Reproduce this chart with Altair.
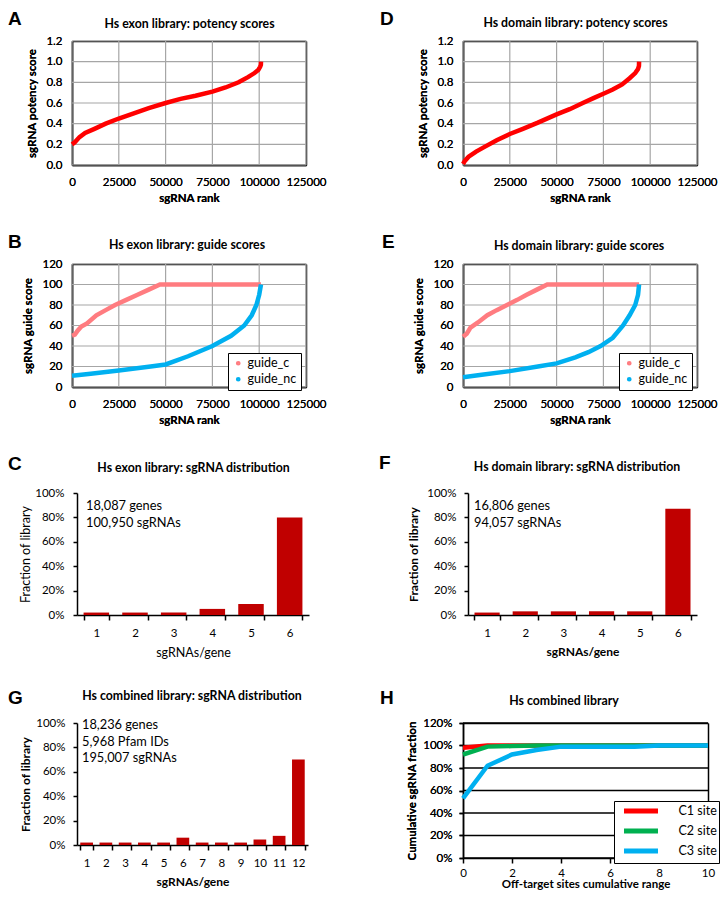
import altair as alt
import pandas as pd

FONT = "Lato"
LFONT = "Liberation Sans"
RED = "#FF0000"
SALMON = "#FF7C80"
BLUE = "#00B0F0"
GREEN = "#00B050"
BAR = "#C00000"
GRID = "#A6A6A6"

# ---------------- data ----------------
# A: Hs exon library potency scores (rank vs score)
exon_pot_rank = [0, 1500, 4000, 7000, 12000, 18000, 25000, 33000, 41000, 50000, 58000,
                 66000, 75000, 82000, 89000, 94000, 97500, 99500, 100500, 100900, 100950]
exon_pot_score = [0.20, 0.22, 0.27, 0.31, 0.35, 0.40, 0.45, 0.50, 0.55, 0.60, 0.64,
                  0.67, 0.71, 0.75, 0.80, 0.85, 0.89, 0.92, 0.95, 0.97, 1.00]
# D: Hs domain library potency scores
dom_pot_rank = [0, 1000, 3000, 7000, 12000, 18000, 25000, 32000, 40000, 50000, 57000,
                64000, 70000, 75000, 80000, 85000, 89000, 92000, 93500, 94000, 94057]
dom_pot_score = [0.01, 0.04, 0.08, 0.13, 0.18, 0.24, 0.30, 0.35, 0.41, 0.49, 0.54,
                 0.60, 0.65, 0.69, 0.73, 0.78, 0.84, 0.89, 0.93, 0.96, 1.00]
# B: Hs exon library guide scores
exon_c_rank = [0, 1500, 3000, 5000, 8000, 13000, 18000, 23000, 29000, 35000, 41000, 47000, 100950]
exon_c_score = [50, 51, 55, 59, 62, 70, 75, 80, 85, 90, 95, 100, 100]
exon_nc_rank = [0, 10000, 25000, 42000, 50000, 62000, 75000, 85000, 92000, 96000, 98500, 100000, 100950]
exon_nc_score = [11, 13, 16, 20, 22, 30, 40, 50, 60, 70, 80, 90, 100]
# E: Hs domain library guide scores
dom_c_rank = [0, 2000, 4000, 8000, 13000, 18000, 23500, 29000, 34000, 39500, 45000, 94057]
dom_c_score = [49, 52, 58, 63, 70, 75, 80, 85, 90, 95, 100, 100]
dom_nc_rank = [0, 2000, 10000, 25000, 40000, 50000, 60000, 67000, 73500, 80000, 85500,
               89000, 92000, 93500, 94057]
dom_nc_score = [9.5, 10, 12, 15.5, 20, 23, 29, 34, 40, 48, 60, 70, 80, 90, 100]
# C / F / G: sgRNA distribution
genes6 = ["1", "2", "3", "4", "5", "6"]
exon_frac = [0.02, 0.02, 0.02, 0.05, 0.09, 0.80]
dom_frac = [0.02, 0.03, 0.03, 0.03, 0.03, 0.87]
genes12 = [str(i) for i in range(1, 13)]
comb_frac = [0.02, 0.02, 0.02, 0.02, 0.02, 0.06, 0.02, 0.02, 0.02, 0.045, 0.075, 0.70]
# H: off-target cumulative fractions
off_range = list(range(0, 11))
c1_site = [0.98, 1.0, 1.0, 1.0, 1.0, 1.0, 1.0, 1.0, 1.0, 1.0, 1.0]
c2_site = [0.92, 0.99, 0.995, 1.0, 1.0, 1.0, 1.0, 1.0, 1.0, 1.0, 1.0]
c3_site = [0.53, 0.82, 0.92, 0.96, 0.99, 0.99, 0.99, 0.99, 1.0, 1.0, 1.0]

# axis ticks / ranges
rank_ticks = [0, 25000, 50000, 75000, 100000, 125000]
potency_ticks = [0.0, 0.2, 0.4, 0.6, 0.8, 1.0, 1.2]
guide_ticks = [0, 20, 40, 60, 80, 100, 120]
pct_ticks = [0, 0.2, 0.4, 0.6, 0.8, 1.0]
cum_ticks = [0, 0.2, 0.4, 0.6, 0.8, 1.0, 1.2]
off_ticks = [0, 2, 4, 6, 8, 10]

captions = {
    "C": "18,087 genes\n100,950 sgRNAs",
    "F": "16,806 genes\n94,057 sgRNAs",
    "G": "18,236 genes\n5,968 Pfam IDs\n195,007 sgRNAs",
}

TSIZE = 12.3
EDGE = dict(domain=True, domainColor="black", domainWidth=1.5)


def txt(text, x, y, size=TSIZE, weight="bold", font=FONT, align="center",
        baseline="middle", line_height=None):
    kw = dict(font=font, fontSize=size, fontWeight=weight, align=align,
              baseline=baseline, color="black")
    if line_height:
        kw.update(lineBreak="\n", lineHeight=line_height)
    return alt.Chart(pd.DataFrame({"t": [text]})).mark_text(**kw).encode(
        text="t:N", x=alt.value(x), y=alt.value(y))


def letter(t, x, y):
    return txt(t, x, y, size=19, font=LFONT, align="left")


def rules(xf, xvals, yf, yvals, xenc, yenc, color, width):
    out = []
    if xvals:
        out.append(alt.Chart(pd.DataFrame({xf: xvals})).mark_rule(
            color=color, strokeWidth=width).encode(x=xenc))
    if yvals:
        out.append(alt.Chart(pd.DataFrame({yf: yvals})).mark_rule(
            color=color, strokeWidth=width).encode(y=yenc))
    return out


def top_right_edges(xf, xscale, yf, yscale):
    """Invisible layer whose top/right axes draw the upper and right border lines."""
    plain = dict(labels=False, ticks=False, grid=False, title=None, **EDGE)
    return alt.Chart(pd.DataFrame({xf: [0], yf: [0]})).mark_point(opacity=0).encode(
        x=alt.X(f"{xf}:Q", scale=xscale, axis=alt.Axis(orient="top", **plain)),
        y=alt.Y(f"{yf}:Q", scale=yscale, axis=alt.Axis(orient="right", **plain)))


RANK_SCALE = alt.Scale(domain=[0, 125000], nice=False)


def rank_x():
    return alt.X("rank:Q", scale=RANK_SCALE,
                 axis=alt.Axis(orient="bottom", values=rank_ticks, format="d",
                               title="sgRNA rank", grid=False, ticks=False, labelPadding=11,
                               titlePadding=5, labelFlush=False, labelOverlap=False,
                               labelFontSize=11.5, titleFontSize=11.5, titleFontWeight="bold",
                               **EDGE))


def score_y(title, scale, vals, fmt):
    return alt.Y("score:Q", scale=scale,
                 axis=alt.Axis(orient="left", values=vals, format=fmt, title=title, grid=False,
                               ticks=False, labelPadding=10,
                               titlePadding=8, labelOverlap=False, labelFontSize=11.5,
                               titleFontSize=11.5, titleFontWeight="bold", **EDGE))


def potency_panel(ranks, scores, lt, lx, ly, title, tx, ty):
    df = pd.DataFrame({"rank": ranks, "score": scores})
    ysc = alt.Scale(domain=[0, 1.2], nice=False)
    xenc = rank_x()
    yenc = score_y("sgRNA potency score", ysc, potency_ticks, ".1f")
    line = alt.Chart(df).mark_line(color=RED, strokeWidth=4.5).encode(x=xenc, y=yenc)
    return alt.layer(
        *rules("rank", rank_ticks, "score", potency_ticks, xenc, yenc, GRID, 1.2),
        line,
        top_right_edges("rank", RANK_SCALE, "score", ysc),
        letter(lt, lx, ly), txt(title, tx, ty)).properties(width=234, height=124)


def guide_panel(cr, cs, nr, ns, lt, lx, ly, title, tx, ty):
    df = pd.DataFrame({"rank": cr + nr, "score": cs + ns,
                       "series": ["guide_c"] * len(cr) + ["guide_nc"] * len(nr)})
    ysc = alt.Scale(domain=[0, 120], nice=False)
    xenc = rank_x()
    yenc = score_y("sgRNA guide score", ysc, guide_ticks, "d")
    line = alt.Chart(df).mark_line(strokeWidth=4.5).encode(
        x=xenc, y=yenc,
        color=alt.Color("series:N",
                        scale=alt.Scale(domain=["guide_c", "guide_nc"], range=[SALMON, BLUE]),
                        legend=alt.Legend(title=None, orient="none", legendX=156, legendY=89,
                                          symbolType="circle", symbolSize=5,
                                          symbolStrokeWidth=2.5, strokeColor="black",
                                          fillColor="white", padding=4, rowPadding=3,
                                          labelFont=FONT, labelFontSize=12.5, labelOffset=3,
                                          labelColor="black")))
    return alt.layer(
        *rules("rank", rank_ticks, "score", guide_ticks, xenc, yenc, GRID, 1.2),
        line,
        top_right_edges("rank", RANK_SCALE, "score", ysc),
        letter(lt, lx, ly), txt(title, tx, ty)).properties(width=234, height=123)


def bar_panel(cats, fracs, width, bold, ylp, ytp, lt, lx, ly, title, tx, ty, cap, cx, cy, clh):
    df = pd.DataFrame({"cat": cats, "frac": fracs})
    w = "bold" if bold else "normal"
    ts = 12 if bold else 12.5
    bars = alt.Chart(df).mark_bar(color=BAR).encode(
        x=alt.X("cat:O", sort=cats,
                scale=alt.Scale(range=[5, width], paddingInner=0.34, paddingOuter=0.17),
                axis=alt.Axis(title="sgRNAs/gene", labelAngle=0, tickBand="extent",
                              domainColor="black", domainWidth=1.5, tickColor="black",
                              tickWidth=1.5, tickSize=5, labelPadding=7, titlePadding=8,
                              labelFontSize=11.5, titleFontSize=ts, titleFontWeight=w)),
        y=alt.Y("frac:Q", scale=alt.Scale(domain=[0, 1], nice=False),
                axis=alt.Axis(values=pct_ticks, format=".0%", grid=False,
                              domainColor="black", domainWidth=1.5, tickColor="black",
                              tickWidth=1.5, tickSize=4, offset=-5, labelPadding=ylp,
                              titlePadding=ytp, title="Fraction of library",
                              labelFontSize=11.5, titleFontSize=ts, titleFontWeight=w)))
    return alt.layer(bars, letter(lt, lx, ly), txt(title, tx, ty),
                     txt(cap, cx, cy, size=12.8, weight="normal", align="left",
                         baseline="top", line_height=clh)).properties(width=width, height=122)


def offtarget_panel(h):
    n = len(off_range)
    df = pd.DataFrame({"x": off_range * 3, "frac": c1_site + c2_site + c3_site,
                       "series": ["C1 site"] * n + ["C2 site"] * n + ["C3 site"] * n})
    xsc = alt.Scale(domain=[0, 10], nice=False)
    ysc = alt.Scale(domain=[0, 1.2], nice=False)
    xenc = alt.X("x:Q", scale=xsc,
                 axis=alt.Axis(orient="bottom", values=off_ticks, grid=False,
                               tickColor="black", tickWidth=1.5, tickSize=5, labelPadding=4,
                               titlePadding=0, labelFlush=False,
                               title="Off-target sites cumulative range",
                               labelFontSize=11.5, titleFontSize=11.5, titleFontWeight="bold",
                               **EDGE))
    yenc = alt.Y("frac:Q", scale=ysc,
                 axis=alt.Axis(orient="left", values=cum_ticks, format=".0%", grid=False,
                               tickColor="black", tickWidth=1.5, tickSize=4, labelPadding=7,
                               titlePadding=5, title="Cumulative sgRNA fraction",
                               labelFontSize=11.5, titleFontSize=11.5, titleFontWeight="bold",
                               **EDGE))
    line = alt.Chart(df).mark_line(strokeWidth=4.5).encode(
        x=xenc, y=yenc,
        color=alt.Color("series:N",
                        scale=alt.Scale(domain=["C1 site", "C2 site", "C3 site"],
                                        range=[RED, GREEN, BLUE]),
                        legend=alt.Legend(title=None, orient="none", legendX=151, legendY=h - 57,
                                          symbolType="M-3.09,0H3.09", symbolSize=121,
                                          symbolStrokeWidth=5, symbolOffset=17,
                                          labelOffset=29.5, padding=2, rowPadding=0,
                                          strokeColor="black", fillColor="white",
                                          labelFont=FONT, labelFontSize=12.5,
                                          labelColor="black")))
    return alt.layer(
        *rules("x", [], "frac", cum_ticks, xenc, yenc, "black", 1.5),
        line,
        top_right_edges("x", xsc, "frac", ysc),
        letter("H", -83, -25),
        txt("Hs combined library", 101, -22)).properties(width=245, height=h)


def spacer(h):
    return alt.Chart(pd.DataFrame({"v": [0]})).mark_point(opacity=0).encode(
        x=alt.value(0), y=alt.value(0)).properties(width=234, height=h)


A = potency_panel(exon_pot_rank, exon_pot_score, "A", -64, -22.5,
                  "Hs exon library: potency scores", 117.5, -17.5)
D = potency_panel(dom_pot_rank, dom_pot_score, "D", -83, -22,
                  "Hs domain library: potency scores", 112.5, -18)
B = guide_panel(exon_c_rank, exon_c_score, exon_nc_rank, exon_nc_score, "B", -64, -22.5,
                "Hs exon library: guide scores", 115, -19.3)
E = guide_panel(dom_c_rank, dom_c_score, dom_nc_rank, dom_nc_score, "E", -81, -22,
                "Hs domain library: guide scores", 116, -18.3)
C = bar_panel(genes6, exon_frac, 237, False, 9, 2, "C", -64, -29,
              "Hs exon library: sgRNA distribution", 121.5, -25, captions["C"], 14, 7, 17)
F = bar_panel(genes6, dom_frac, 234, True, 8, 6, "F", -84, -30,
              "Hs domain library: sgRNA distribution", 114, -26, captions["F"], 11, 6.5, 17)
G = bar_panel(genes12, comb_frac, 236, True, 8, 3, "G", -64, -25,
              "Hs combined library: sgRNA distribution", 120, -26.7, captions["G"], 10, -4, 16.5)
H = offtarget_panel(135)

chart = alt.concat(
    A, D, spacer(99), spacer(99),
    B, E, spacer(106), spacer(106),
    C, F, spacer(108), spacer(108),
    G, H,
    columns=2, spacing={"row": 0, "column": 154}, align="none", bounds="flush",
).resolve_scale(color="independent", x="independent", y="independent").resolve_legend(
    color="independent"
).properties(
    padding={"left": 0, "top": 1, "right": 0, "bottom": 0}
).configure(font=FONT).configure_view(stroke=None).configure_axis(
    labelColor="black", titleColor="black", labelFont=FONT, titleFont=FONT
)

chart.save("out.html", embed_options={"renderer": "svg", "actions": False})
